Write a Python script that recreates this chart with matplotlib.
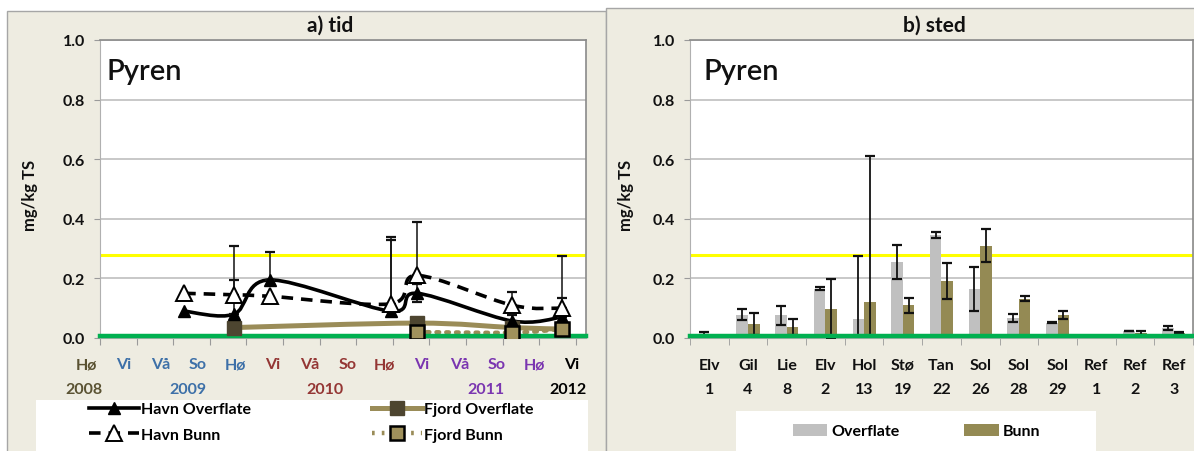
import numpy as np
import matplotlib
matplotlib.use('Agg')
import matplotlib.pyplot as plt
from matplotlib.path import Path
from matplotlib.patches import PathPatch, Rectangle
from matplotlib.lines import Line2D

plt.rcParams['font.family'] = ['Lato', 'DejaVu Sans']

# ---------------- data: panel a) tid ----------------
season_labels = ['Hø', 'Vi', 'Vå', 'So', 'Hø', 'Vi', 'Vå', 'So', 'Hø', 'Vi', 'Vå', 'So', 'Hø', 'Vi']
season_groups = [0, 1, 1, 1, 1, 2, 2, 2, 2, 3, 3, 3, 3, 4]
year_labels = ['2008', '2009', '2010', '2011', '2012']
year_pos = [-0.44, 2.4, 6.15, 10.55, 12.8]

havn_t = [2.3, 3.66, 4.64, 7.95, 8.66, 11.26, 12.62]
havn_over = [0.09, 0.08, 0.195, 0.09, 0.15, 0.057, 0.07]
havn_over_up = [0.0, 0.115, 0.095, 0.25, 0.03, 0.02, 0.065]
havn_over_lo = [0.0, 0.0, 0.0, 0.0, 0.03, 0.0, 0.0]
havn_bunn = [0.15, 0.145, 0.14, 0.115, 0.21, 0.11, 0.10]
havn_bunn_up = [0.0, 0.165, 0.0, 0.215, 0.18, 0.045, 0.175]
havn_bunn_lo = [0.0, 0.0, 0.0, 0.0, 0.0, 0.0, 0.0]

fjord_over_t = [3.66, 8.66, 11.26, 12.62]
fjord_over = [0.035, 0.05, 0.035, 0.03]
fjord_bunn_t = [8.66, 11.26, 12.62]
fjord_bunn = [0.02, 0.018, 0.03]

# ---------------- data: panel b) sted ----------------
station_names = ['Elv', 'Gil', 'Lie', 'Elv', 'Hol', 'Stø', 'Tan', 'Sol', 'Sol', 'Sol', 'Ref', 'Ref', 'Ref']
station_nums = ['1', '4', '8', '2', '13', '19', '22', '26', '28', '29', '1', '2', '3']
bar_over = [0.015, 0.078, 0.076, 0.166, 0.065, 0.255, 0.346, 0.165, 0.066, 0.052, np.nan, 0.022, 0.033]
bar_over_err = [0.004, 0.018, 0.032, 0.004, 0.21, 0.058, 0.011, 0.073, 0.013, 0.002, np.nan, 0.0, 0.006]
bar_bunn = [np.nan, 0.047, 0.036, 0.098, 0.12, 0.11, 0.192, 0.31, 0.132, 0.078, np.nan, 0.018, 0.016]
bar_bunn_err = [np.nan, 0.038, 0.027, 0.1, 0.49, 0.025, 0.06, 0.055, 0.008, 0.013, np.nan, 0.007, 0.003]

limit_yellow = 0.28
limit_green = 0.007

# ---------------- styling ----------------
W, H = 1194, 452
BEIGE = '#eeece1'
GRID = '#c4c4c4'
OLIVE = '#9a8c58'
DARKSQ = '#4d4530'
GREEN = '#00b050'
YELLOW = '#ffff00'
TXT = '#111111'
FS = 11.5
group_colors = ['#5a5232', '#3d70a8', '#943634', '#7a35b0', '#000000']

fig = plt.figure(figsize=(W / 100, H / 100), dpi=100)
fig.patch.set_facecolor('white')

# panel backgrounds
fig.patches.append(Rectangle((7 / W, -0.01), (606 - 7) / W, (452 - 12) / H + 0.01,
                             transform=fig.transFigure, facecolor=BEIGE,
                             edgecolor='#a6a6a6', lw=1, zorder=-10))
fig.patches.append(Rectangle((606 / W, -0.01), (1194 - 606) / W + 0.01, (452 - 9) / H + 0.01,
                             transform=fig.transFigure, facecolor=BEIGE,
                             edgecolor='#a6a6a6', lw=1, zorder=-10))
# legend boxes
fig.patches.append(Rectangle((36 / W, -0.01), (588 - 36) / W, (452 - 401) / H + 0.01,
                             transform=fig.transFigure, facecolor='white',
                             edgecolor='none', zorder=-9))
fig.patches.append(Rectangle((736 / W, -0.01), (1096 - 736) / W, (452 - 412) / H + 0.01,
                             transform=fig.transFigure, facecolor='white',
                             edgecolor='none', zorder=-9))

ax1 = fig.add_axes([100 / W, 1 - 339 / H, 486 / W, 298 / H])
ax2 = fig.add_axes([690 / W, 1 - 339 / H, 503 / W, 298 / H])


def smooth_path(x, y):
    pts = np.column_stack([x, y]).astype(float)
    n = len(pts)
    verts = [pts[0]]
    codes = [Path.MOVETO]
    for i in range(n - 1):
        p0 = pts[i - 1] if i > 0 else pts[i]
        p1 = pts[i]
        p2 = pts[i + 1]
        p3 = pts[i + 2] if i + 2 < n else pts[i + 1]
        c1 = p1 + (p2 - p0) / 6.0
        c2 = p2 - (p3 - p1) / 6.0
        verts += [c1, c2, p2]
        codes += [Path.CURVE4] * 3
    return Path(verts, codes)


def style_axes(ax, pyren_x):
    ax.set_facecolor('white')
    ax.set_ylim(0, 1.0)
    ax.set_yticks([0, 0.2, 0.4, 0.6, 0.8, 1.0])
    ax.set_yticklabels(['0.0', '0.2', '0.4', '0.6', '0.8', '1.0'])
    ax.grid(axis='y', color=GRID, lw=1.3, zorder=0)
    ax.set_axisbelow(True)
    for s in ['top', 'right']:
        ax.spines[s].set_color('#8a8a8a')
        ax.spines[s].set_linewidth(1.2)
    ax.spines['left'].set_color('#b0b0b0')
    ax.spines['bottom'].set_color('#b0b0b0')
    ax.tick_params(axis='y', direction='out', length=4, color='#9a9a9a', pad=7,
                   labelsize=FS)
    for lab in ax.get_yticklabels():
        lab.set_fontweight('bold')
        lab.set_color(TXT)
    ax.axhline(limit_yellow, color=YELLOW, lw=2.2, zorder=2)
    ax.axhline(limit_green, color=GREEN, lw=3.2, zorder=6, clip_on=False)
    ax.text(pyren_x, 0.895, 'Pyren', transform=ax.transAxes,
            fontsize=21, va='center', ha='left', color=TXT, fontweight='semibold')


# ---------------- panel a ----------------
style_axes(ax1, 0.014)
ax1.set_xlim(0, 13.28)
ax1.set_xticks(np.arange(0, 14))
ax1.set_xticklabels([])
ax1.tick_params(axis='x', direction='out', length=5, color='#9a9a9a')

# smoothed lines (Excel-style smoothing through the data points)
ax1.add_patch(PathPatch(smooth_path(fjord_over_t, fjord_over), fill=False,
                        edgecolor=OLIVE, lw=3.6, zorder=3, capstyle='round'))
ax1.add_patch(PathPatch(smooth_path(fjord_bunn_t, fjord_bunn), fill=False,
                        edgecolor=OLIVE, lw=3.2, linestyle=(0, (0.6, 1.6)),
                        capstyle='round', zorder=3))
ax1.add_patch(PathPatch(smooth_path(havn_t, havn_over), fill=False,
                        edgecolor='black', lw=2.6, zorder=4))
ax1.add_patch(PathPatch(smooth_path(havn_t, havn_bunn), fill=False,
                        edgecolor='black', lw=2.6, linestyle=(0, (3.2, 2.2)), zorder=4))


def masked_err(t, v, lo, up):
    t = np.array(t); v = np.array(v); lo = np.array(lo); up = np.array(up)
    m = (lo + up) > 0
    return t[m], v[m], np.vstack([lo[m], up[m]])


for (t, v, lo, up) in [(havn_t, havn_over, havn_over_lo, havn_over_up),
                       (havn_t, havn_bunn, havn_bunn_lo, havn_bunn_up)]:
    tt, vv, ee = masked_err(t, v, lo, up)
    ax1.errorbar(tt, vv, yerr=ee, fmt='none', ecolor=TXT, elinewidth=1.1,
                 capsize=3.5, capthick=1.6, zorder=5)

ax1.plot(havn_t, havn_over, linestyle='none', marker='^', ms=9, mfc='black',
         mec='black', zorder=7)
ax1.plot(havn_t, havn_bunn, linestyle='none', marker='^', ms=11, mfc='white',
         mec='black', mew=1.4, zorder=7)
ax1.plot(fjord_over_t, fjord_over, linestyle='none', marker='s', ms=10, mfc=DARKSQ,
         mec=DARKSQ, zorder=6)
ax1.plot(fjord_bunn_t, fjord_bunn, linestyle='none', marker='s', ms=10, mfc='#a0915c',
         mec='black', mew=1.8, zorder=7)

xtr = ax1.get_xaxis_transform()
for k, (lab, g) in enumerate(zip(season_labels, season_groups)):
    ax1.text(-0.38 + 1.02 * k, -0.088, lab, transform=xtr, ha='center', va='center',
             fontsize=FS, fontweight='bold', color=group_colors[g], clip_on=False)
for lab, p, c in zip(year_labels, year_pos, group_colors):
    ax1.text(p, -0.17, lab, transform=xtr, ha='center', va='center',
             fontsize=FS, fontweight='bold', color=c, clip_on=False)

# legend a
h_ho = Line2D([], [], color='black', lw=2.6, marker='^', ms=9, mfc='black', mec='black')
h_hb = Line2D([], [], color='black', lw=2.6, linestyle=(0, (3.2, 2.2)), marker='^', ms=11,
              mfc='white', mec='black', mew=1.4)
h_fo = Line2D([], [], color=OLIVE, lw=3.6, marker='s', ms=10, mfc=DARKSQ, mec=DARKSQ)
h_fb = Line2D([], [], color=OLIVE, lw=3.2, linestyle=(0, (0.6, 1.6)), marker='s', ms=10,
              mfc='#a0915c', mec='black', mew=1.8)
fig.legend([h_ho, h_hb, h_fo, h_fb],
           ['Havn Overflate', 'Havn Bunn', 'Fjord Overflate', 'Fjord Bunn'],
           ncol=2, loc='upper left', bbox_to_anchor=(89 / W, 1 - 403 / H),
           frameon=False, borderpad=0, borderaxespad=0, handlelength=3.1,
           handletextpad=0.15, columnspacing=7.6, labelspacing=0.72,
           prop={'size': FS, 'weight': 'bold'})

# ---------------- panel b ----------------
style_axes(ax2, 0.026)
idx = np.arange(len(station_names))
bw = 0.3
ekw = dict(ecolor=TXT, elinewidth=1.3, capsize=3.5, capthick=1.6, zorder=5)
b_over = ax2.bar(idx - bw / 2, bar_over, width=bw, color='#c0c0c0', zorder=3,
                 yerr=bar_over_err, error_kw=ekw)
b_bunn = ax2.bar(idx + bw / 2, bar_bunn, width=bw, color='#948a54', zorder=3,
                 yerr=bar_bunn_err, error_kw=ekw)
ax2.set_xlim(-0.5, len(station_names) - 0.5)
ax2.set_xticks(idx)
ax2.set_xticklabels([])
ax2.set_xticks(np.arange(-0.5, len(station_names)), minor=True)
ax2.tick_params(axis='x', which='major', length=0)
ax2.tick_params(axis='x', which='minor', direction='out', length=5, color='#9a9a9a')
xtr2 = ax2.get_xaxis_transform()
for i, (nm, nu) in enumerate(zip(station_names, station_nums)):
    ax2.text(i, -0.09, nm, transform=xtr2, ha='center', va='center', fontsize=FS,
             fontweight='bold', color=TXT, clip_on=False)
    ax2.text(i, -0.172, nu, transform=xtr2, ha='center', va='center', fontsize=FS,
             fontweight='bold', color=TXT, clip_on=False)

fig.legend([b_over, b_bunn], ['Overflate', 'Bunn'], ncol=2, loc='center left',
           bbox_to_anchor=(793 / W, 1 - 432 / H), frameon=False, borderpad=0,
           borderaxespad=0, handlelength=2.15, handleheight=0.8,
           handletextpad=0.25, columnspacing=4.05,
           prop={'size': FS, 'weight': 'bold'})

# titles and axis labels
fig.text(330 / W, 1 - 26 / H, 'a) tid', ha='center', va='center', fontsize=15,
         fontweight='bold', color=TXT)
fig.text(934 / W, 1 - 26 / H, 'b) sted', ha='center', va='center', fontsize=15,
         fontweight='bold', color=TXT)
fig.text(30 / W, 1 - 195 / H, 'mg/kg TS', rotation=90, ha='center', va='center',
         fontsize=12, fontweight='bold', color=TXT)
fig.text(626 / W, 1 - 195 / H, 'mg/kg TS', rotation=90, ha='center', va='center',
         fontsize=12, fontweight='bold', color=TXT)

fig.savefig('out.png', dpi=100, facecolor='white')
